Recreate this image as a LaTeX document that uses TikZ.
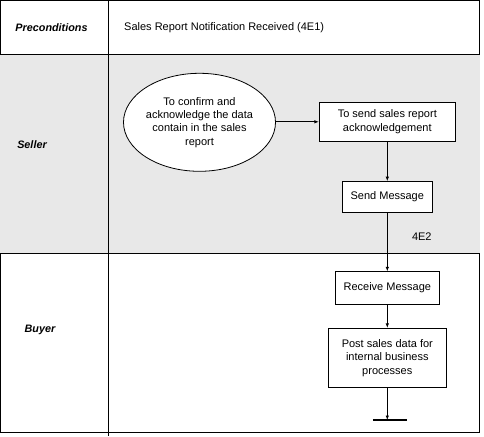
\documentclass[tikz,border=0pt]{standalone}
\usepackage{fontspec}
\setmainfont{Liberation Sans}
\usetikzlibrary{shapes.geometric,arrows.meta}
\definecolor{lanegray}{RGB}{232,232,232}
\tikzset{
  txt/.style={font=\fontsize{11}{13.4}\selectfont},
  lbl/.style={font=\fontsize{10.8}{13.4}\selectfont\bfseries\itshape},
  frame/.style={line width=0.8pt},
  boxnode/.style={draw, line width=0.8pt, fill=white, rectangle, inner sep=0pt, align=center, txt},
  ellnode/.style={draw, line width=0.8pt, fill=white, ellipse, inner sep=0pt, align=center, txt},
  flow/.style={line width=0.8pt, -{Latex[length=4.5pt,width=3.5pt]}}
}
\begin{document}
\begin{tikzpicture}[x=1pt,y=-1pt]
\useasboundingbox (0,0) rectangle (484,436);
% frame
\draw[frame] (0.5,0.5) rectangle (479,432);
\fill[lanegray] (0,54) rectangle (479.5,253);
\draw[frame] (0,54) -- (479.5,54);
\draw[frame] (0,253) -- (479.5,253);
\draw[frame] (108,0.5) -- (108,436);
% lane labels
\node[lbl] (pre) at (51.5,27.5) {Preconditions};
\node[lbl] (seller) at (32,144.5) {Seller};
\node[lbl] (buyer) at (40,330) {Buyer};
\node[txt, anchor=west, inner sep=0pt] (cond) at (124,27.5) {Sales Report Notification Received (4E1)};
% flow nodes
\node[ellnode, minimum width=152pt, minimum height=98pt] (confirm) at (199.5,122.3) {To confirm and\\acknowledge the data\\contain in the sales\\report};
\node[boxnode, minimum width=136pt, minimum height=38.7pt] (ack) at (387.3,121.8) {To send sales report\\acknowledgement};
\node[boxnode, minimum width=90.4pt, minimum height=30.9pt] (send) at (387.3,197) {Send Message};
\node[boxnode, minimum width=103.7pt, minimum height=32.6pt] (recv) at (387.3,288) {Receive Message};
\node[boxnode, minimum width=117.4pt, minimum height=59pt] (post) at (387.3,357.8) {Post sales data for\\internal business\\processes};
\coordinate (end) at (387.3,420);
% connectors
\draw[flow] (confirm.east |- ack.west) -- (ack.west);
\draw[flow] (ack) -- (send);
\draw[flow] (send) -- node[pos=0.41, right=21pt, txt] (lbl4e2) {4E2} (recv);
\draw[flow] (recv) -- (post);
\draw[flow] (post) -- (end);
\draw[line width=2pt] (end) ++(-14.5,0) -- ++(34.5,0);
\end{tikzpicture}
\end{document}
